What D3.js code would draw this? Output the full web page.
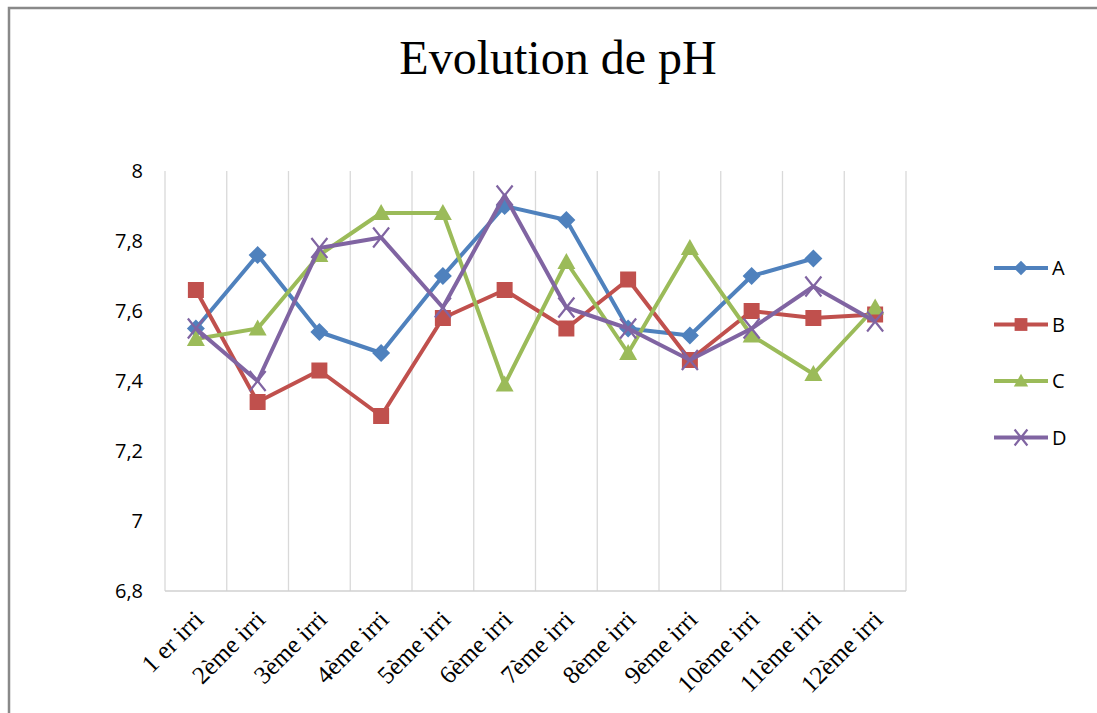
<!DOCTYPE html>
<html>
<head>
<meta charset="utf-8">
<script src="https://cdn.jsdelivr.net/npm/d3@7"></script>
<style>
  body { margin: 0; background: #fff; }
  svg { display: block; }
</style>
</head>
<body>
<div id="chart"></div>
<script>
// data
var categories = ['1 er irri', '2ème irri', '3ème irri', '4ème irri', '5ème irri', '6ème irri',
                  '7ème irri', '8ème irri', '9ème irri', '10ème irri', '11ème irri', '12ème irri'];
var seriesA = [7.55, 7.76, 7.54, 7.48, 7.70, 7.90, 7.86, 7.55, 7.53, 7.70, 7.75, null];
var seriesB = [7.66, 7.34, 7.43, 7.30, 7.58, 7.66, 7.55, 7.69, 7.46, 7.60, 7.58, 7.59];
var seriesC = [7.52, 7.55, 7.76, 7.88, 7.88, 7.39, 7.74, 7.48, 7.78, 7.53, 7.42, 7.61];
var seriesD = [7.55, 7.40, 7.78, 7.81, 7.61, 7.93, 7.61, 7.55, 7.46, 7.55, 7.67, 7.57];
var seriesNames = ['A', 'B', 'C', 'D'];
var yTicks = [6.8, 7, 7.2, 7.4, 7.6, 7.8, 8];

var width = 1097;
var height = 713;

// plot area
var plot = {left: 165, right: 906, top: 171, bottom: 591};

var colors = ['#4F81BD', '#C0504D', '#9BBB59', '#8064A2'];
var shapes = ['diamond', 'square', 'triangle', 'cross'];

var series = seriesNames.map(function (name, i) {
    return {name: name, values: [seriesA, seriesB, seriesC, seriesD][i], color: colors[i], shape: shapes[i]};
});

var svg = d3.select('#chart').append('svg')
    .attr('width', width)
    .attr('height', height);

// chart frame (cut off at the right and bottom like in the picture)
svg.append('rect')
    .attr('x', 9).attr('y', 8)
    .attr('width', width + 20).attr('height', height + 20)
    .attr('fill', '#fff')
    .attr('stroke', '#898989')
    .attr('stroke-width', 2.5);

svg.append('text')
    .attr('x', 558).attr('y', 74)
    .attr('text-anchor', 'middle')
    .style('font-family', '"Liberation Serif", "Times New Roman", serif')
    .style('font-size', '48px')
    .attr('fill', '#000')
    .text('Evolution de pH');

var x = d3.scaleBand()
    .domain(categories)
    .range([plot.left, plot.right]);

var y = d3.scaleLinear()
    .domain([6.8, 8])
    .range([plot.bottom, plot.top]);

// vertical gridlines between categories
var gridX = categories.map(function (c) { return x(c); }).concat([plot.right]);
svg.append('g').selectAll('line')
    .data(gridX)
    .enter().append('line')
    .attr('x1', function (d) { return d; })
    .attr('x2', function (d) { return d; })
    .attr('y1', plot.top)
    .attr('y2', plot.bottom)
    .attr('stroke', '#d9d9d9')
    .attr('stroke-width', 1.3);

// bottom axis line
svg.append('line')
    .attr('x1', plot.left).attr('x2', plot.right)
    .attr('y1', plot.bottom).attr('y2', plot.bottom)
    .attr('stroke', '#d0d0d0')
    .attr('stroke-width', 1.5);

// y axis labels
var yAxis = d3.axisLeft(y)
    .tickValues(yTicks)
    .tickSize(0)
    .tickPadding(0)
    .tickFormat(function (d) { return String(d).replace('.', ','); });

var yg = svg.append('g')
    .attr('transform', 'translate(143,0)')
    .call(yAxis);
yg.select('.domain').remove();
yg.selectAll('text')
    .style('font-family', '"Open Sans", "Noto Sans", sans-serif')
    .style('font-size', '20px')
    .attr('fill', '#000');

// x axis labels, rotated
var xAxis = d3.axisBottom(x).tickSize(0).tickPadding(0);
var xg = svg.append('g')
    .attr('transform', 'translate(0,' + plot.bottom + ')')
    .call(xAxis);
xg.select('.domain').remove();
xg.selectAll('text')
    .attr('y', 0).attr('dy', 0)
    .attr('text-anchor', 'end')
    .attr('transform', 'translate(9,30) rotate(-45)')
    .style('font-family', '"Liberation Serif", "Times New Roman", serif')
    .style('font-size', '25px')
    .attr('fill', '#000');

var line = d3.line()
    .defined(function (d) { return d.v !== null; })
    .x(function (d) { return x(d.c) + x.bandwidth() / 2; })
    .y(function (d) { return y(d.v); });

function markerPath(shape, k) {
    if (shape === 'diamond') return 'M0,' + (-9 * k) + 'L' + (9 * k) + ',0L0,' + (9 * k) + 'L' + (-9 * k) + ',0Z';
    if (shape === 'square') return 'M' + (-8 * k) + ',' + (-8 * k) + 'H' + (8 * k) + 'V' + (8 * k) + 'H' + (-8 * k) + 'Z';
    if (shape === 'triangle') return 'M0,' + (-9 * k) + 'L' + (9 * k) + ',' + (7 * k) + 'H' + (-9 * k) + 'Z';
    return 'M' + (-8 * k) + ',' + (-10 * k) + 'L' + (8 * k) + ',' + (10 * k) + 'M' + (-8 * k) + ',' + (10 * k) + 'L' + (8 * k) + ',' + (-10 * k);
}

function drawMarker(g, s, k) {
    var p = g.append('path').attr('d', markerPath(s.shape, k));
    if (s.shape === 'cross') {
        p.attr('fill', 'none').attr('stroke', s.color).attr('stroke-width', 2.2);
    } else {
        p.attr('fill', s.color);
    }
}

series.forEach(function (s) {
    var pts = s.values.map(function (v, i) { return {c: categories[i], v: v}; });
    svg.append('path')
        .datum(pts)
        .attr('d', line)
        .attr('fill', 'none')
        .attr('stroke', s.color)
        .attr('stroke-width', 4)
        .attr('stroke-linejoin', 'round');

    pts.filter(function (d) { return d.v !== null; }).forEach(function (d) {
        var g = svg.append('g')
            .attr('transform', 'translate(' + (x(d.c) + x.bandwidth() / 2) + ',' + y(d.v) + ')');
        drawMarker(g, s, 1);
    });
});

// legend
var legend = svg.append('g');
series.forEach(function (s, i) {
    var ly = 268 + i * 56.5;
    legend.append('line')
        .attr('x1', 994).attr('x2', 1048)
        .attr('y1', ly).attr('y2', ly)
        .attr('stroke', s.color)
        .attr('stroke-width', 4);
    var g = legend.append('g').attr('transform', 'translate(1021,' + ly + ')');
    drawMarker(g, s, 0.8);
    legend.append('text')
        .attr('x', 1052).attr('y', ly + 7)
        .style('font-family', '"Open Sans", "Noto Sans", sans-serif')
        .style('font-size', '20px')
        .attr('fill', '#000')
        .text(s.name);
});
</script>
</body>
</html>
